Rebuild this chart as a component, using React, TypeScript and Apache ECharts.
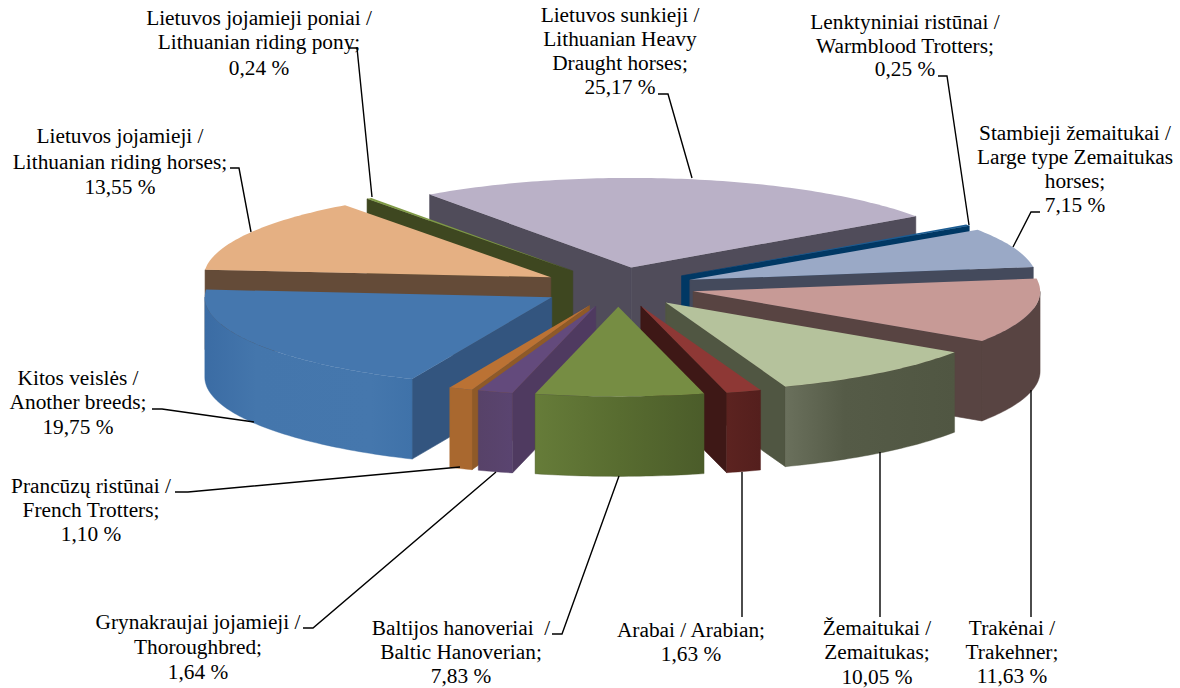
import React, { useEffect, useRef } from "react";
import * as echarts from "echarts";

const breedLines: string[][] = [
  ["Lietuvos sunkieji /", "Lithuanian Heavy", "Draught horses;"],
  ["Lenktyniniai ristūnai /", "Warmblood Trotters;"],
  ["Stambieji žemaitukai /", "Large type Zemaitukas", "horses;"],
  ["Trakėnai /", "Trakehner;"],
  ["Žemaitukai /", "Zemaitukas;"],
  ["Arabai / Arabian;"],
  ["Baltijos hanoveriai  /", "Baltic Hanoverian;"],
  ["Grynakraujai jojamieji /", "Thoroughbred;"],
  ["Prancūzų ristūnai /", "French Trotters;"],
  ["Kitos veislės /", "Another breeds;"],
  ["Lietuvos jojamieji /", "Lithuanian riding horses;"],
  ["Lietuvos jojamieji poniai /", "Lithuanian riding pony;"],
];
const shares = [25.17, 0.25, 7.15, 11.63, 10.05, 1.63, 7.83, 1.64, 1.1, 19.75, 13.55, 0.24];

const topColors = ["#bab1c7", "#1b5c92", "#9aa9c6", "#c79a96", "#b5c29c", "#8e3835", "#768d43", "#634a7c", "#bb7234", "#4577ae", "#e5b083", "#7f9a45"];
const faceColors = ["#504c5a", "#003864", "#444a5c", "#584442", "#505642", "#3e1816", "#4c5c2a", "#4f3a60", "#8f5a28", "#33557f", "#644b38", "#3e4720"];
const wallStops: [number, string][][] = [
  [[0, "#504c5a"], [1, "#504c5a"]],
  [[0, "#003864"], [1, "#003864"]],
  [[0, "#444a5c"], [1, "#444a5c"]],
  [[0, "#584442"], [1, "#584442"]],
  [[0, "#6a705c"], [0.35, "#555b47"], [1, "#505642"]],
  [[0, "#5c2320"], [1, "#541f1d"]],
  [[0, "#667c39"], [0.5, "#586c30"], [1, "#4b5c2a"]],
  [[0, "#5a4470"], [1, "#574268"]],
  [[0, "#a9682f"], [1, "#a9682f"]],
  [[0, "#3f72a9"], [0.2, "#4577ad"], [0.75, "#4476ac"], [1, "#3b6ca4"]],
  [[0, "#644b38"], [1, "#644b38"]],
  [[0, "#3e4720"], [1, "#3e4720"]],
];

const labelCenters = [620, 905, 1075, 1012, 877, 691, 461, 198, 91, 78, 120, 259];
const labelLineYs = [
  [15, 39, 63, 87],
  [22, 46, 69],
  [133, 157, 181, 205],
  [628, 652, 676],
  [628, 652, 677],
  [630, 654],
  [628, 652, 676],
  [622, 647, 672],
  [486, 510, 534],
  [378, 402, 427],
  [136, 162, 187],
  [18, 42, 68],
];
const leaders = [
  [[658, 94], [668, 94], [692, 178]],
  [[938, 76], [947, 76], [969, 225]],
  [[1040, 212], [1031, 212], [1013, 247]],
  [[1031, 617], [1031, 390]],
  [[880, 617], [880, 452]],
  [[742, 617], [742, 472]],
  [[552, 634], [562, 634], [619, 476]],
  [[303, 628], [313, 628], [496, 472]],
  [[175, 492], [188, 492], [460, 467]],
  [[152, 409], [162, 409], [254, 422]],
  [[230, 168], [239, 168], [251, 232]],
  [[348, 48], [357, 48], [372, 197]],
];

const CX = 618;
const CY = 287;
const R = 347;
const SQUASH = 0.258;
const DEPTH = 80;
const EXPLODE = 77;
const START_DEG = -35.5;

const total = shares.reduce((a, b) => a + b, 0);
const rad = (d: number) => (d * Math.PI) / 180;

let running = START_DEG;
const slices = shares.map((value, index) => {
  const start = running;
  const end = running + (value / total) * 360;
  running = end;
  const mid = (start + end) / 2;
  const ax = CX + EXPLODE * Math.sin(rad(mid));
  const ay = CY - EXPLODE * SQUASH * Math.cos(rad(mid));
  return { value, index, start, end, ax, ay };
});
const drawOrder = [...slices].sort((a, b) => a.ay - b.ay);

function arcPoints(s: { ax: number; ay: number }, from: number, to: number, dy = 0): number[][] {
  const n = Math.max(2, Math.ceil(Math.abs(to - from)));
  const pts: number[][] = [];
  for (let i = 0; i <= n; i++) {
    const t = rad(from + ((to - from) * i) / n);
    pts.push([s.ax + R * Math.sin(t), s.ay - R * SQUASH * Math.cos(t) + dy]);
  }
  return pts;
}

function renderSlice(params: any) {
  const s = drawOrder[params.dataIndex];
  const children: any[] = [];
  const face = (angle: number) => {
    const rim = arcPoints(s, angle, angle + 0.001)[0];
    children.push({
      type: "polygon",
      shape: { points: [[s.ax, s.ay], rim, [rim[0], rim[1] + DEPTH], [s.ax, s.ay + DEPTH]] },
      style: { fill: faceColors[s.index], stroke: faceColors[s.index], lineWidth: 0.6 },
    });
  };
  if (Math.sin(rad(s.start)) < 0) face(s.start);
  if (Math.sin(rad(s.end)) > 0) face(s.end);

  const wallFrom = Math.max(s.start, 90);
  const wallTo = Math.min(s.end, 270);
  if (wallTo > wallFrom) {
    const top = arcPoints(s, wallFrom, wallTo);
    const bottom = arcPoints(s, wallFrom, wallTo, DEPTH).reverse();
    const stops = wallStops[s.index];
    children.push({
      type: "polygon",
      shape: { points: [...top, ...bottom] },
      style: {
        fill: new echarts.graphic.LinearGradient(
          s.start > 180 ? 1 : 0, 0, s.start > 180 ? 0 : 1, 0,
          stops.map(([offset, color]) => ({ offset, color }))
        ),
        stroke: stops[stops.length - 1][1],
        lineWidth: 0.4,
      },
    });
  }
  children.push({
    type: "polygon",
    shape: { points: [[s.ax, s.ay], ...arcPoints(s, s.start, s.end)] },
    style: { fill: topColors[s.index] },
  });
  return { type: "group", children };
}

const percent = (v: number) => v.toFixed(2).replace(".", ",") + " %";

export default function App() {
  const ref = useRef<HTMLDivElement>(null);
  useEffect(() => {
    const chart = echarts.init(ref.current!, null, { renderer: "svg" });
    const graphics: any[] = [];
    leaders.forEach((points) => {
      graphics.push({
        type: "polyline",
        z: 10,
        shape: { points },
        style: { stroke: "#000", lineWidth: 1.4, fill: "none" },
      });
    });
    breedLines.forEach((lines, i) => {
      [...lines, percent(shares[i])].forEach((text, j) => {
        graphics.push({
          type: "text",
          z: 11,
          x: labelCenters[i],
          y: labelLineYs[i][j],
          style: {
            text,
            fill: "#000",
            font: '21.33px "Liberation Serif"',
            textAlign: "center",
            textVerticalAlign: "middle",
          },
        });
      });
    });
    chart.setOption({
      animation: false,
      backgroundColor: "#fff",
      graphic: { elements: graphics },
      series: [
        {
          type: "custom",
          coordinateSystem: "none",
          silent: true,
          renderItem: renderSlice,
          data: drawOrder.map((s) => s.value),
        },
      ],
    });
    return () => chart.dispose();
  }, []);
  return <div ref={ref} style={{ position: "fixed", left: 0, top: 0, width: 1180, height: 688 }} />;
}
